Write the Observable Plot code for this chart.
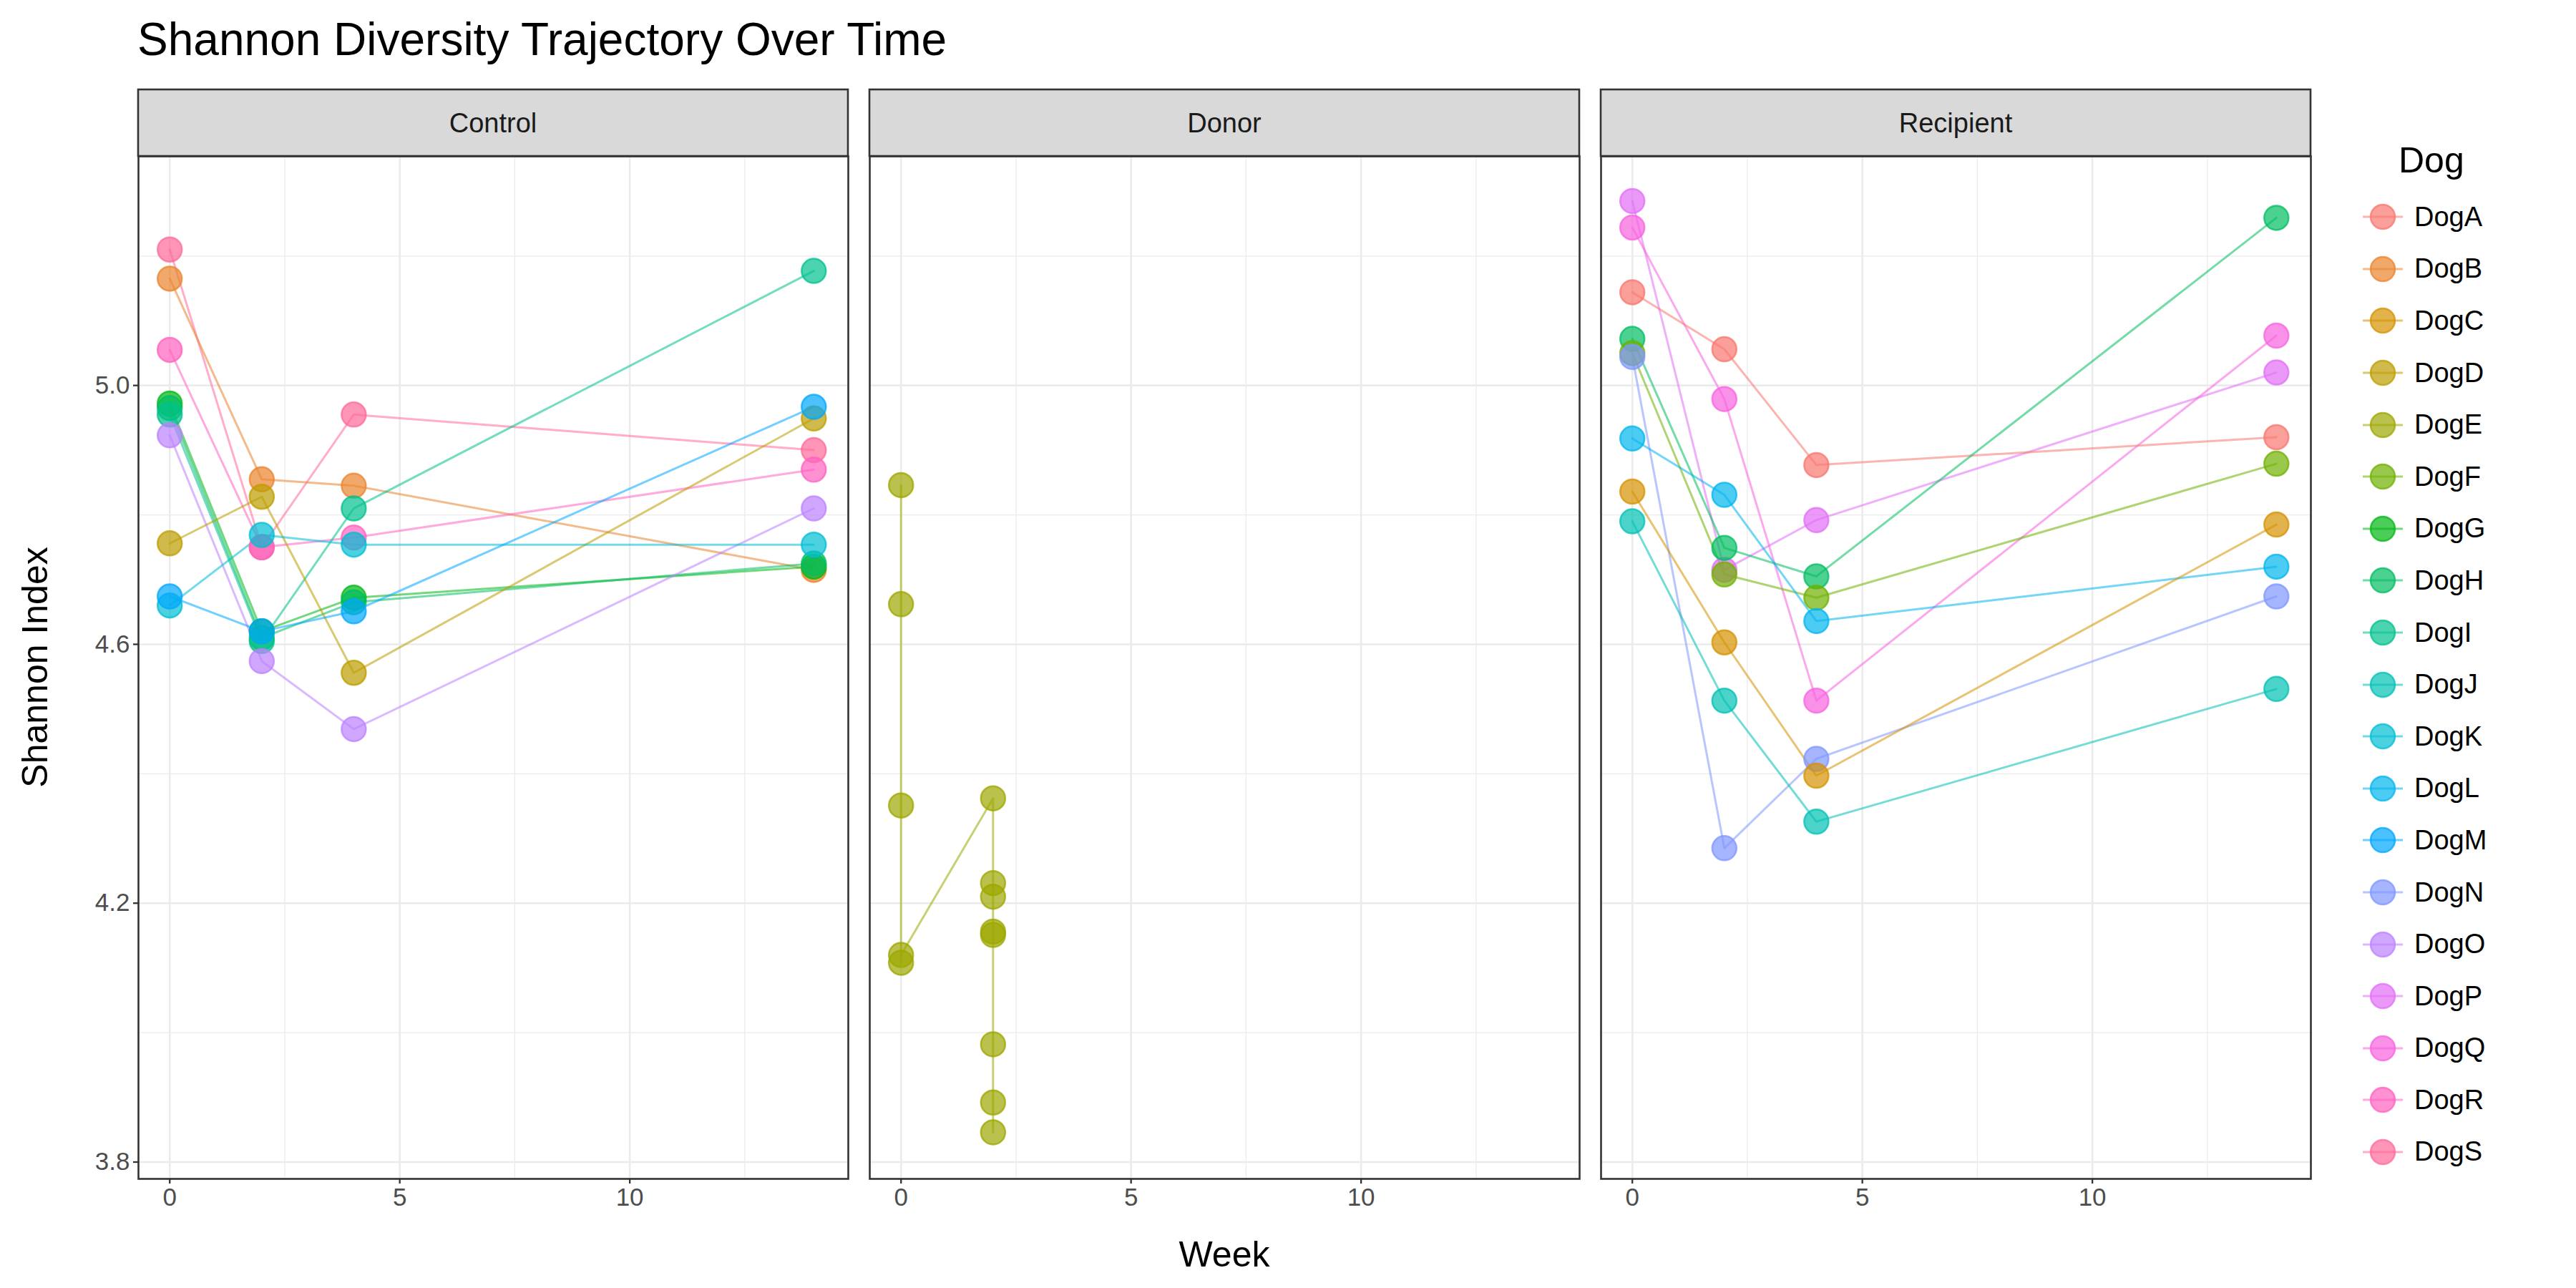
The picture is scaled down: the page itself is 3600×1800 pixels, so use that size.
<!DOCTYPE html>
<html><head><meta charset="utf-8">
<script src="https://cdn.jsdelivr.net/npm/d3@7"></script>
<script src="https://cdn.jsdelivr.net/npm/@observablehq/plot@0.6"></script>
<style>
body{margin:0;background:#fff;font-family:"Liberation Sans",Arial,sans-serif;}
#wrap{position:relative;width:3600px;height:1800px;}
#title{position:absolute;left:192px;top:18px;font-size:64px;color:#000;}
#legend{position:absolute;left:3300px;top:195px;}
#legend .t{font-size:50px;margin-left:52px;margin-bottom:14px;}
#legend .i{display:flex;align-items:center;height:72.6px;font-size:38px;}
</style></head><body>
<div id="wrap"><div id="title">Shannon Diversity Trajectory Over Time</div><div id="chart"></div><div id="legend"></div></div>
<script>
const dogs = ["DogA","DogB","DogC","DogD","DogE","DogF","DogG","DogH","DogI","DogJ","DogK","DogL","DogM","DogN","DogO","DogP","DogQ","DogR","DogS"];
const groups = ["Control","Donor","Recipient"];
const yTicks = [3.8,4.2,4.6,5.0];
const xTicks = [0,5,10];
// [dog, week, shannon]
const control = [
 ["DogS",0,5.21],["DogS",2,4.75],["DogS",4,4.955],["DogS",14,4.90],
 ["DogB",0,5.165],["DogB",2,4.855],["DogB",4,4.845],["DogB",14,4.715],
 ["DogR",0,5.055],["DogR",2,4.75],["DogR",4,4.765],["DogR",14,4.87],
 ["DogG",0,4.972],["DogG",2,4.62],["DogG",4,4.672],["DogG",14,4.72],
 ["DogH",0,4.965],["DogH",2,4.61],["DogH",4,4.665],["DogH",14,4.725],
 ["DogI",0,4.955],["DogI",2,4.605],["DogI",4,4.81],["DogI",14,5.177],
 ["DogO",0,4.923],["DogO",2,4.574],["DogO",4,4.469],["DogO",14,4.81],
 ["DogD",0,4.756],["DogD",2,4.828],["DogD",4,4.556],["DogD",14,4.949],
 ["DogK",0,4.66],["DogK",2,4.769],["DogK",4,4.754],["DogK",14,4.754],
 ["DogM",0,4.674],["DogM",2,4.62],["DogM",4,4.651],["DogM",14,4.967]
];
const donor = [
 ["DogE",0,4.846],["DogE",0,4.662],["DogE",0,4.351],["DogE",0,4.108],["DogE",0,4.12],
 ["DogE",2,4.362],["DogE",2,4.231],["DogE",2,4.21],["DogE",2,4.156],["DogE",2,4.151],["DogE",2,3.982],["DogE",2,3.892],["DogE",2,3.846]
];
const recipient = [
 ["DogP",0,5.285],["DogP",2,4.715],["DogP",4,4.792],["DogP",14,5.02],
 ["DogQ",0,5.244],["DogQ",2,4.979],["DogQ",4,4.513],["DogQ",14,5.077],
 ["DogA",0,5.144],["DogA",2,5.056],["DogA",4,4.877],["DogA",14,4.92],
 ["DogH",0,5.072],["DogH",2,4.749],["DogH",4,4.705],["DogH",14,5.259],
 ["DogF",0,5.05],["DogF",2,4.708],["DogF",4,4.672],["DogF",14,4.879],
 ["DogN",0,5.044],["DogN",2,4.285],["DogN",4,4.423],["DogN",14,4.674],
 ["DogL",0,4.918],["DogL",2,4.831],["DogL",4,4.636],["DogL",14,4.72],
 ["DogC",0,4.836],["DogC",2,4.603],["DogC",4,4.397],["DogC",14,4.785],
 ["DogJ",0,4.79],["DogJ",2,4.513],["DogJ",4,4.326],["DogJ",14,4.531]
];
const toRows = (arr, g) => arr.map(([dog, week, shannon]) => ({dog, week, shannon, group: g}));
const data = [...toRows(control,"Control"), ...toRows(donor,"Donor"), ...toRows(recipient,"Recipient")];

// ggplot-style hue palette (polar LUV)
function hclLuv(h, c, l) {
  const Xn = 95.047, Yn = 100, Zn = 108.883;
  const un = 4*Xn/(Xn+15*Yn+3*Zn), vn = 9*Yn/(Xn+15*Yn+3*Zn);
  const hr = h*Math.PI/180, u = c*Math.cos(hr), v = c*Math.sin(hr);
  const Y = l > 8 ? Yn*Math.pow((l+16)/116,3) : Yn*l/903.3;
  const up = u/(13*l)+un, vp = v/(13*l)+vn;
  const X = Y*9*up/(4*vp), Z = Y*(12-3*up-20*vp)/(4*vp);
  const x = X/100, y = Y/100, z = Z/100;
  const lin = [3.2404542*x-1.5371385*y-0.4985314*z, -0.9692660*x+1.8760108*y+0.0415560*z, 0.0556434*x-0.2040259*y+1.0572252*z];
  const g = lin.map(t => { t = t <= 0.0031308 ? 12.92*t : 1.055*Math.pow(t,1/2.4)-0.055; return Math.round(255*Math.max(0,Math.min(1,t))); });
  return d3.rgb(g[0], g[1], g[2]).formatHex();
}
const colors = dogs.map((d,i) => hclLuv(15 + i*360/19, 100, 65));

const W = 3258, H = 1800, mL = 192, mR = 28, mT = 218, mB = 153;
const gridY = [3.8,4.0,4.2,4.4,4.6,4.8,5.0,5.2];
const gridX = [0,2.5,5,7.5,10,12.5];
const plot = Plot.plot({
  width: W, height: H, marginLeft: mL, marginRight: mR, marginTop: mT, marginBottom: mB,
  style: {fontFamily: "Liberation Sans, Arial, sans-serif", fontSize: "35px", background: "#fff"},
  fx: {domain: groups, paddingInner: 30/1033, paddingOuter: 0, axis: null, label: null},
  x: {domain: [-0.68, 14.75]},
  y: {domain: [3.774, 5.354]},
  color: {domain: dogs, range: colors},
  marks: [
    Plot.ruleY(gridY, {stroke: "#ebebeb", strokeWidth: d => (Math.round(d*10)%4===2 ? 2.6 : 1.3)}),
    Plot.ruleX(gridX, {stroke: "#ebebeb", strokeWidth: d => (d%5===0 ? 2.6 : 1.3)}),
    Plot.line(data, {x: "week", y: "shannon", fx: "group", z: "dog", stroke: "dog", strokeWidth: 3, strokeOpacity: 0.55}),
    Plot.dot(data, {x: "week", y: "shannon", fx: "group", fill: "dog", stroke: "dog", r: 17, fillOpacity: 0.7, strokeOpacity: 0.75, strokeWidth: 2.5}),
    Plot.frame({stroke: "#333", strokeWidth: 2.6}),
    Plot.axisY({ticks: yTicks, tickFormat: d3.format(".1f"), tickSize: 7, tickPadding: 5, label: null, color: "#4d4d4d", stroke: "#333", strokeWidth: 2.3}),
    Plot.axisX({ticks: xTicks, tickSize: 7, tickPadding: 6, label: null, color: "#4d4d4d", stroke: "#333", strokeWidth: 2.3})
  ]
});
document.getElementById("chart").appendChild(plot);
const svg = d3.select(plot);
const fx = plot.scale("fx");
groups.forEach(g => {
  const x0 = fx.apply(g), bw = fx.bandwidth;
  svg.append("rect").attr("x", x0).attr("y", 125).attr("width", bw).attr("height", mT-125)
     .attr("fill", "#d9d9d9").attr("stroke", "#333").attr("stroke-width", 2.6);
  svg.append("text").attr("x", x0 + bw/2).attr("y", 172).attr("text-anchor", "middle")
     .attr("dominant-baseline", "central").attr("font-size", 38).attr("fill", "#1a1a1a").text(g);
});
svg.append("text").attr("x", (mL + W - mR)/2).attr("y", 1770).attr("text-anchor", "middle").attr("font-size", 50).attr("fill", "#000").text("Week");
svg.append("text").attr("transform", `translate(66,${(mT + H - mB)/2}) rotate(-90)`).attr("text-anchor", "middle").attr("font-size", 50).attr("fill", "#000").text("Shannon Index");

const lg = document.getElementById("legend");
lg.innerHTML = '<div class="t">Dog</div>' + dogs.map((d,i) =>
  `<div class="i"><svg width="60" height="60"><line x1="2" x2="58" y1="30" y2="30" stroke="${colors[i]}" stroke-width="3" stroke-opacity="0.55"/><circle cx="30" cy="30" r="17" fill="${colors[i]}" fill-opacity="0.7" stroke="${colors[i]}" stroke-opacity="0.75" stroke-width="2.5"/></svg><span style="margin-left:14px">${d}</span></div>`).join("");
</script></body></html>
